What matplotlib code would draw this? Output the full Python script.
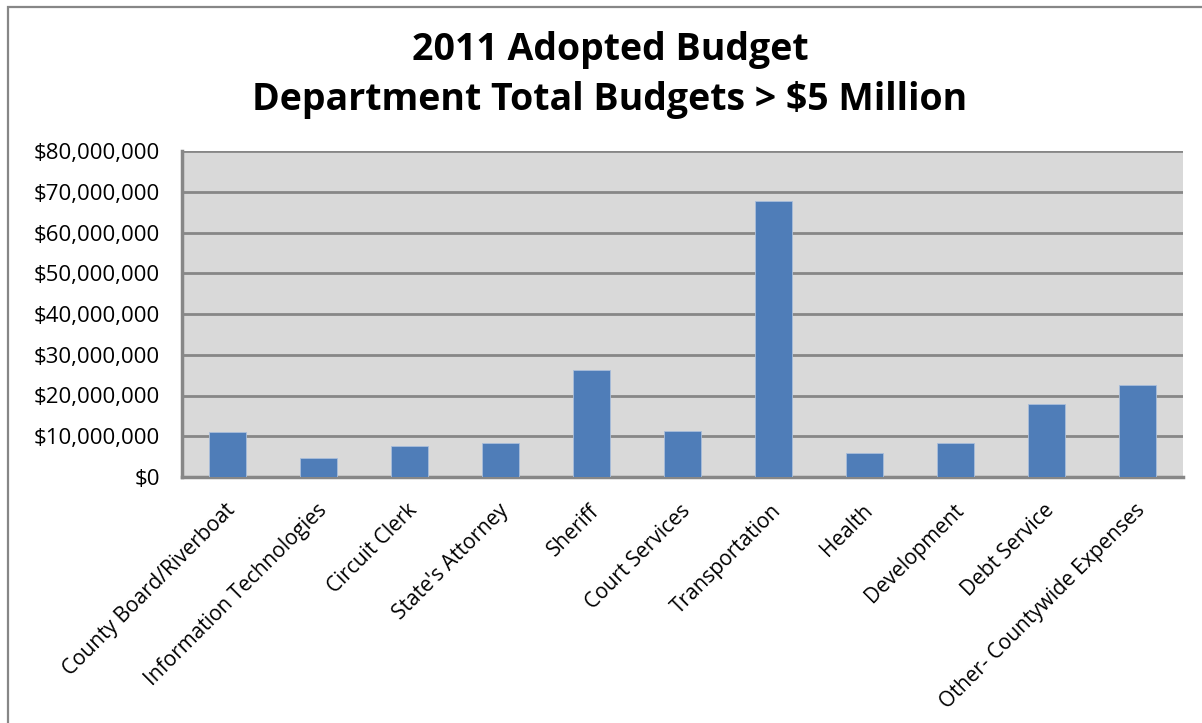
import matplotlib.pyplot as plt
import matplotlib.patches as mpatches
from matplotlib.ticker import FuncFormatter, MultipleLocator

departments = [
    'County Board/Riverboat', 'Information Technologies', 'Circuit Clerk',
    "State's Attorney", 'Sheriff', 'Court Services', 'Transportation',
    'Health', 'Development', 'Debt Service', 'Other- Countywide Expenses',
]
budgets = [11.0e6, 4.7e6, 7.6e6, 8.4e6, 26.2e6, 11.3e6, 67.8e6,
           6.0e6, 8.4e6, 17.9e6, 22.5e6]

plt.rcParams['font.family'] = ['Open Sans', 'DejaVu Sans']

W, H = 1202, 723
fig = plt.figure(figsize=(W / 100, H / 100), dpi=100)
fig.patch.set_facecolor('white')

# chart frame: left and top edges show, the rest is cut off
frame = mpatches.Rectangle((8 / W, -0.05), 1.1, 1.05 - 7 / H,
                           transform=fig.transFigure, fill=False,
                           edgecolor='#878787', linewidth=1.6)
fig.patches.append(frame)

ax = fig.add_axes([182 / W, 1 - 477 / H, (1183 - 182) / W, (477 - 151) / H])
ax.set_facecolor('#d9d9d9')

x = range(len(departments))
ax.bar(x, budgets, width=0.40, color='#4f7db8', edgecolor='#a9bedb',
       linewidth=0.6, zorder=3)

ax.set_xlim(-0.5, len(departments) - 0.5)
ax.set_ylim(0, 80e6)
ax.yaxis.set_major_locator(MultipleLocator(10e6))
ax.yaxis.set_major_formatter(FuncFormatter(lambda v, p: f'${v:,.0f}'))
ax.grid(axis='y', color='#878787', linewidth=2, zorder=1)

for side in ['top', 'right']:
    ax.spines[side].set_visible(False)
for side in ['left', 'bottom']:
    ax.spines[side].set_color('#878787')
    ax.spines[side].set_linewidth(2.5)

ax.tick_params(axis='y', length=0, pad=16, labelsize=16)
ax.tick_params(axis='x', length=0, pad=22, labelsize=15)
ax.set_xticks(list(x))
ax.set_xticklabels(departments, rotation=45, ha='right', va='center',
                   rotation_mode='anchor')
# nudge the rotated labels a little to the right of their ticks
import matplotlib.transforms as mtransforms
shift = mtransforms.ScaledTranslation(0.05, 0, fig.dpi_scale_trans)
for lbl in ax.get_xticklabels():
    lbl.set_transform(lbl.get_transform() + shift)

fig.text(610 / W, 1 - 50 / H, '2011 Adopted Budget', ha='center',
         va='center', fontsize=27, fontweight='bold')
fig.text(610 / W, 1 - 100 / H, 'Department Total Budgets > $5 Million',
         ha='center', va='center', fontsize=27, fontweight='bold')

fig.savefig('out.png', dpi=100, facecolor='white')
